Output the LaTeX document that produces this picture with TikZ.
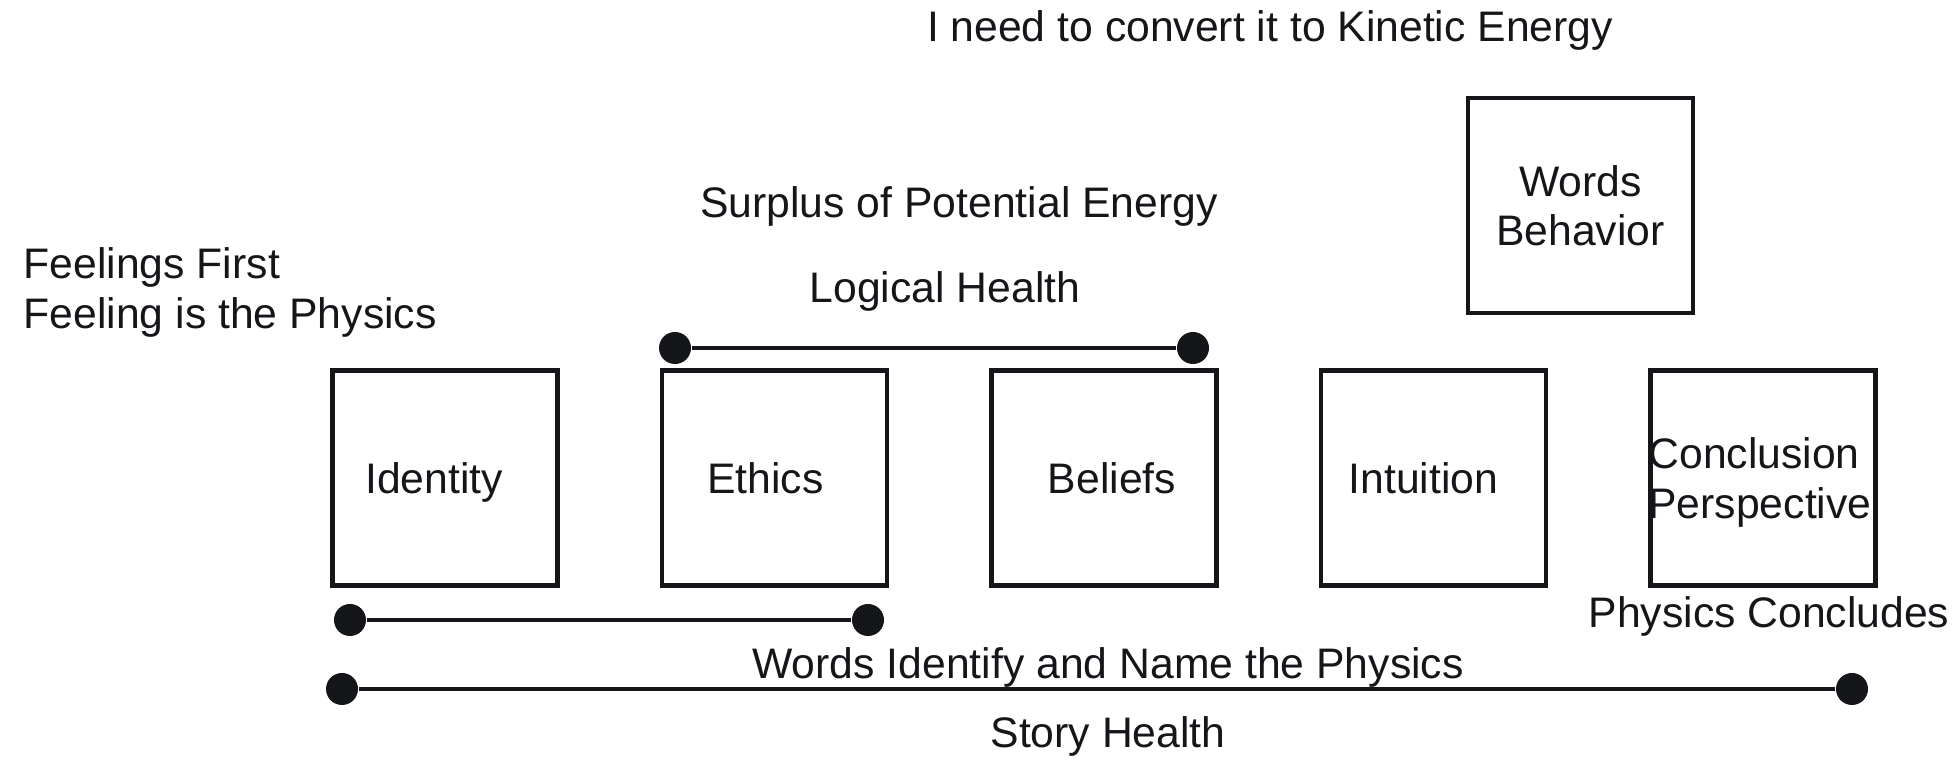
\documentclass[tikz,border=0pt]{standalone}
\usepackage{fontspec}
\setmainfont{Liberation Sans}
\usetikzlibrary{arrows}
\definecolor{ink}{RGB}{20,22,25}

\begin{document}
\begin{tikzpicture}[
    txt/.style={font=\fontsize{12.15}{14.2}\selectfont, text=ink, inner sep=0pt},
    box/.style={txt, draw=ink, line width=1.15pt, minimum width=2.25cm, minimum height=2.15cm, align=center, text depth=0pt},
    dot/.style={circle, fill=ink, minimum size=0.32cm, inner sep=0pt},
    link/.style={ink, line width=1.1pt}
  ]
    \useasboundingbox (0,0) rectangle (19.56,7.65);

\node[txt, anchor=base] (kinetic) at (12.70,7.23) {I need to convert it to Kinetic Energy};
\node[txt, anchor=base] (surplus) at (9.59,5.47) {Surplus of Potential Energy};
\node[txt, anchor=base] (logical) at (9.45,4.62) {Logical Health};
\node[txt, anchor=north west, align=left] (feel) at (0.23,5.18) {Feelings First\\Feeling is the Physics};

\node[box] (words) at (15.805,5.595) {Words\\Behavior};

\node[box] (identity) at (4.45,2.87) {\hspace*{-0.22cm}Identity};
\node[box] (ethics) at (7.745,2.87) {\hspace*{-0.18cm}Ethics};
\node[box] (beliefs) at (11.04,2.87) {Beliefs\hspace*{-0.16cm}};
\node[box] (intuition) at (14.335,2.87) {\hspace*{-0.2cm}Intuition};
\node[box, align=left] (concl) at (17.63,2.87) {\hspace*{-0.06cm}Conclusion\\\hspace*{-0.06cm}Perspective};

\node[txt, anchor=base] (physc) at (17.69,1.37) {Physics Concludes};
\node[txt, anchor=base] (wordsid) at (11.08,0.86) {Words Identify and Name the Physics};
\node[txt, anchor=base] (story) at (11.08,0.17) {Story Health};

\node[dot] (l1) at (6.75,4.17) {};
\node[dot] (l2) at (11.93,4.17) {};
\node[dot] (i1) at (3.50,1.45) {};
\node[dot] (i2) at (8.68,1.45) {};
\node[dot] (s1) at (3.42,0.76) {};
\node[dot] (s2) at (18.52,0.76) {};

\draw[link] (l1) -- (l2);
\draw[link] (i1) -- (i2);
\draw[link] (s1) -- (s2);
  \end{tikzpicture}
\end{document}
